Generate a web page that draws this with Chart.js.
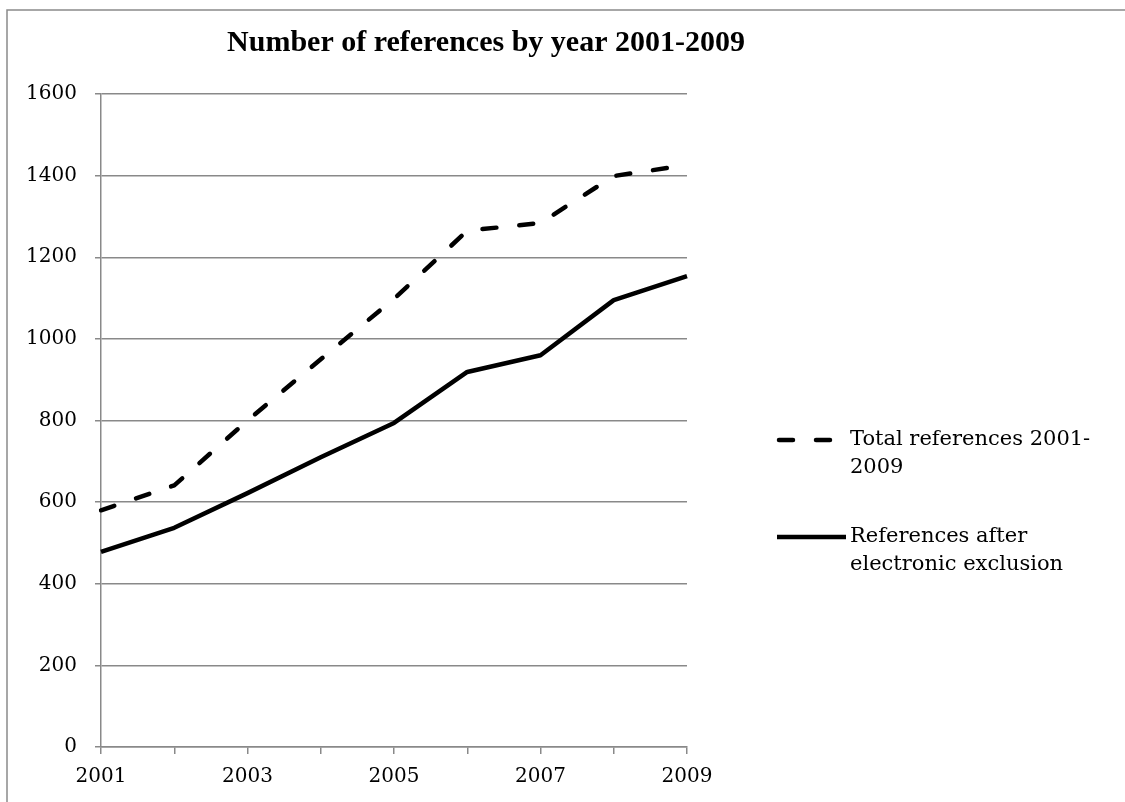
<!DOCTYPE html>
<html>
<head>
<meta charset="utf-8">
<script src="https://cdn.jsdelivr.net/npm/chart.js@4/dist/chart.umd.min.js"></script>
<style>
  html, body { margin: 0; padding: 0; background: #ffffff; }
  canvas { display: block; }
</style>
</head>
<body>
<canvas id="chart" width="1125" height="802"></canvas>
<script>
// Reference counts per publication year
const YEARS = ['2001', '2002', '2003', '2004', '2005', '2006', '2007', '2008', '2009'];
const TOTAL_REFS = [580, 641, 800, 950, 1098, 1265, 1284, 1399, 1426];
const AFTER_EXCLUSION = [478, 537, 622, 710, 794, 919, 960, 1095, 1154];
const Y_MIN = 0;
const Y_MAX = 1600;
const Y_STEP = 200;
const TITLE = 'Number of references by year 2001-2009';
const TOTAL_LABEL = ['Total references 2001-', '2009'];
const AFTER_LABEL = ['References after', 'electronic exclusion'];

const AXIS_GREY = '#898989';
const SERIF = '"DejaVu Serif", serif';
const DASH = [14, 23];

// Frame, title and a wrapped legend drawn next to the plot
const decor = {
  id: 'decor',
  beforeDraw(chart) {
    const ctx = chart.ctx;
    ctx.save();
    ctx.fillStyle = '#ffffff';
    ctx.fillRect(0, 0, chart.width, chart.height);
    ctx.strokeStyle = '#8a8a8a';
    ctx.lineWidth = 1.5;
    ctx.strokeRect(7, 10, chart.width + 50, chart.height + 50);
    ctx.restore();
  },
  afterDraw(chart) {
    const ctx = chart.ctx;
    ctx.save();
    ctx.fillStyle = '#000000';
    ctx.font = 'bold 30px "Liberation Serif", serif';
    ctx.textAlign = 'center';
    ctx.textBaseline = 'middle';
    ctx.fillText(TITLE, 486, 43);

    const entries = [
      { ds: chart.data.datasets[0], y: 440 },
      { ds: chart.data.datasets[1], y: 537 }
    ];
    ctx.font = '21px ' + SERIF;
    ctx.textAlign = 'left';
    for (const e of entries) {
      const ds = e.ds;
      const dashed = ds.borderDash && ds.borderDash.length;
      ctx.strokeStyle = ds.borderColor;
      ctx.lineWidth = ds.borderWidth;
      ctx.lineCap = dashed ? 'round' : 'butt';
      ctx.setLineDash(ds.borderDash || []);
      ctx.beginPath();
      ctx.moveTo(dashed ? 779 : 777, e.y);
      ctx.lineTo(dashed ? 833 : 846, e.y);
      ctx.stroke();
      ctx.setLineDash([]);
      ds.label.forEach((line, i) => {
        ctx.fillText(line, 850, e.y + i * 28);
      });
    }
    ctx.restore();
  }
};

new Chart(document.getElementById('chart'), {
  type: 'line',
  data: {
    labels: YEARS,
    datasets: [
      {
        label: TOTAL_LABEL,
        data: TOTAL_REFS,
        borderColor: '#000000',
        borderWidth: 4.5,
        borderDash: DASH,
        borderCapStyle: 'round',
        borderJoinStyle: 'round',
        pointRadius: 0,
        tension: 0,
        fill: false
      },
      {
        label: AFTER_LABEL,
        data: AFTER_EXCLUSION,
        borderColor: '#000000',
        borderWidth: 4.5,
        borderCapStyle: 'butt',
        borderJoinStyle: 'round',
        pointRadius: 0,
        tension: 0,
        fill: false
      }
    ]
  },
  options: {
    responsive: false,
    animation: false,
    devicePixelRatio: 1,
    layout: { padding: { top: 94, right: 438, bottom: 0, left: 0 } },
    plugins: {
      legend: { display: false },
      title: { display: false },
      tooltip: { enabled: false }
    },
    scales: {
      x: {
        type: 'category',
        offset: false,
        afterFit(scale) { scale.height = 55; },
        grid: {
          drawOnChartArea: false,
          drawTicks: true,
          tickLength: 7,
          color: AXIS_GREY,
          lineWidth: 1.5
        },
        border: { display: true, color: AXIS_GREY, width: 1.5 },
        ticks: {
          autoSkip: false,
          maxRotation: 0,
          padding: 11,
          color: '#000000',
          font: { family: SERIF, size: 20 },
          callback(value, index) {
            return index % 2 === 0 ? this.getLabelForValue(value) : '';
          }
        }
      },
      y: {
        min: Y_MIN,
        max: Y_MAX,
        afterFit(scale) { scale.width = 101; },
        grid: {
          drawTicks: true,
          tickLength: 6,
          color: AXIS_GREY,
          lineWidth: 1.5
        },
        border: { display: true, color: AXIS_GREY, width: 1.5 },
        ticks: {
          stepSize: Y_STEP,
          padding: 18,
          color: '#000000',
          font: { family: SERIF, size: 20 },
          callback(value) { return String(value); }
        }
      }
    }
  },
  plugins: [decor]
});
</script>
</body>
</html>
